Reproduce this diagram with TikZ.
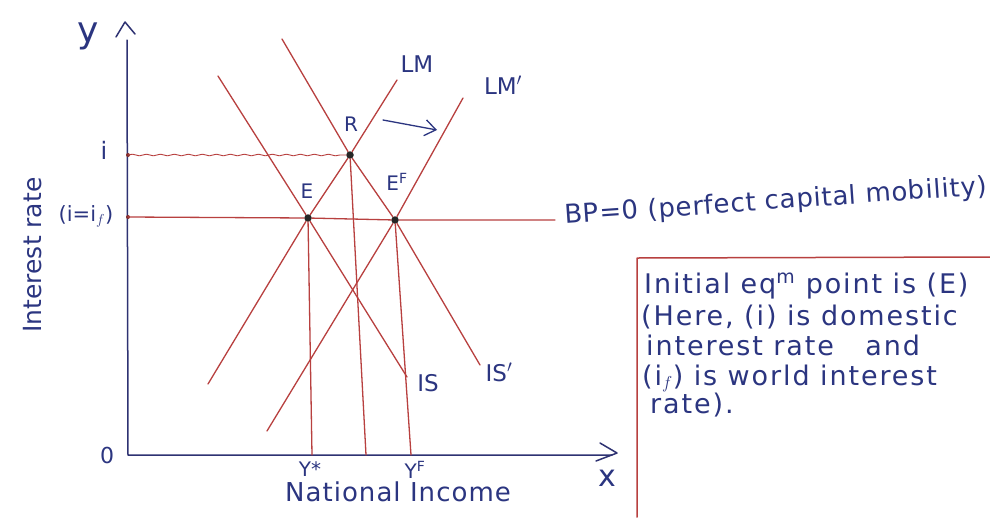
\documentclass[tikz,border=0pt]{standalone}
\usepackage{fontspec}
\setmainfont{DejaVu Sans}
\usetikzlibrary{arrows.meta,decorations.pathmorphing}
\definecolor{ink}{HTML}{2B3580}
\definecolor{axisc}{HTML}{2E3272}
\definecolor{redl}{HTML}{B8403F}
\begin{document}
\begin{tikzpicture}[x=1pt,y=-1pt,line cap=round,line join=round,
  curve/.style={draw=redl,line width=1.3pt},
  axisline/.style={draw=axisc,line width=1.5pt},
  lbl/.style={text=ink,font=\fontsize{22}{26}\selectfont,inner sep=0pt},
  note/.style={text=ink,font=\fontsize{27}{30}\selectfont\addfontfeatures{LetterSpace=7},inner sep=0pt,anchor=base west},
  eqdot/.style={circle,fill=black!85,inner sep=0pt,minimum size=7.5pt},
  axdot/.style={circle,fill=redl!70!black,inner sep=0pt,minimum size=4pt}]
\useasboundingbox (0,0) rectangle (990,517);
\fill[white] (0,0) rectangle (990,517);

% axes
\coordinate (ytop) at (127,40);
\coordinate (O) at (128,455);
\coordinate (xend) at (612,455);
\draw[axisline] (ytop) -- (O) -- (xend);
\coordinate (ya1) at (116,37);
\coordinate (ya2) at (125,22);
\coordinate (ya3) at (135,34);
\draw[axisline] (ya1) -- (ya2) -- (ya3);
\coordinate (xa1) at (600,443);
\coordinate (xa2) at (617,453);
\coordinate (xa3) at (596,461);
\draw[axisline] (xa1) -- (xa2) -- (xa3);

% axis labels
\node[lbl,font=\fontsize{36}{40}\selectfont] (ylab) at (88,36) {y};
\node[lbl,font=\fontsize{30}{34}\selectfont] (xlab) at (607,478) {x};
\node[lbl] (zero) at (107,455) {0};
\node[lbl,rotate=90,font=\fontsize{25}{28}\selectfont] (ilab) at (33,255) {Interest rate};
\node[lbl,font=\fontsize{24}{28}\selectfont] (ilev) at (104,150) {i};
\node[lbl,font=\fontsize{21}{24}\selectfont] (iflev) at (86,216) {(i=i$_f$)};

% equilibrium points
\node[eqdot] (E) at (308,218) {};
\node[eqdot] (R) at (350,155) {};
\node[eqdot] (EF) at (395,220) {};
\node[axdot] (ai) at (128,155) {};
\node[axdot] (aif) at (128,217) {};

% BP line and wavy guide
\coordinate (bpend) at (555,220);
\draw[curve] (aif.center) -- (E) -- (EF) -- (bpend);
\draw[draw=redl,line width=0.9pt,decorate,decoration={snake,amplitude=0.8pt,segment length=14pt}] (ai.center) -- (R);

% IS curves
\coordinate (IStop) at (218,76);
\coordinate (ISbot) at (407,377);
\draw[curve] (IStop) -- (E) -- (ISbot);
\coordinate (IS2top) at (282,39);
\coordinate (IS2bot) at (480,365);
\draw[curve] (IS2top) -- (R) -- (EF) -- (IS2bot);

% LM curves
\coordinate (LMbot) at (208,384);
\coordinate (LMtop) at (397,80);
\draw[curve] (LMbot) -- (E) -- (R) -- (LMtop);
\coordinate (LM2bot) at (267,431);
\coordinate (LM2top) at (463,98);
\draw[curve] (LM2bot) -- (EF) -- (LM2top);

% verticals
\coordinate (ystar) at (312,455);
\coordinate (yr) at (366,455);
\coordinate (yf) at (411,455);
\draw[curve] (E) -- (ystar);
\draw[curve] (R) -- (yr);
\draw[curve] (EF) -- (yf);

% shift arrow
\coordinate (sh1) at (383,120);
\coordinate (sh2) at (437,130);
\draw[draw=ink,line width=1.3pt,-{Straight Barb[length=11pt,width=16pt]}] (sh1) -- (sh2);

% curve and point labels
\node[lbl,font=\fontsize{23}{26}\selectfont] (lLM) at (417,64) {LM};
\node[lbl,font=\fontsize{23}{26}\selectfont] (lLM2) at (503,85) {LM$'$};
\node[lbl,font=\fontsize{20}{24}\selectfont] (lR) at (351,124) {R};
\node[lbl,font=\fontsize{20}{24}\selectfont] (lE) at (307,191) {E};
\node[lbl,font=\fontsize{20}{24}\selectfont] (lEF) at (397,182) {E$^{\mathrm F}$};
\node[lbl,font=\fontsize{23}{26}\selectfont] (lIS) at (428,383) {IS};
\node[lbl,font=\fontsize{23}{26}\selectfont] (lIS2) at (499,372) {IS$'$};
\node[lbl,font=\fontsize{20}{24}\selectfont] (lys) at (310,469) {Y*};
\node[lbl,font=\fontsize{20}{24}\selectfont] (lyf) at (415,470) {Y$^{\mathrm F}$};
\node[lbl,font=\fontsize{26}{30}\selectfont\addfontfeatures{LetterSpace=4}] (lni) at (398,492) {National Income};

% BP label
\node[note,rotate=4,font=\fontsize{26}{30}\selectfont\addfontfeatures{LetterSpace=3}] (bplab) at (565,224) {BP=0 (perfect capital mobility)};

% note box
\coordinate (bx1) at (637,517);
\coordinate (bx2) at (637,258);
\coordinate (bx3) at (990,257);
\draw[curve,line width=1.5pt] (bx1) -- (bx2) -- (bx3);
\node[note] (n1) at (644,293) {Initial eq$^{\mathrm m}$ point is (E)};
\node[note] (n2) at (641,325) {(Here, (i) is domestic};
\node[note] (n3) at (646,355) {interest rate \ \ and};
\node[note] (n4) at (642,385) {(i$_f$) is world interest};
\node[note] (n5) at (650,413) {rate).};
\end{tikzpicture}
\end{document}
